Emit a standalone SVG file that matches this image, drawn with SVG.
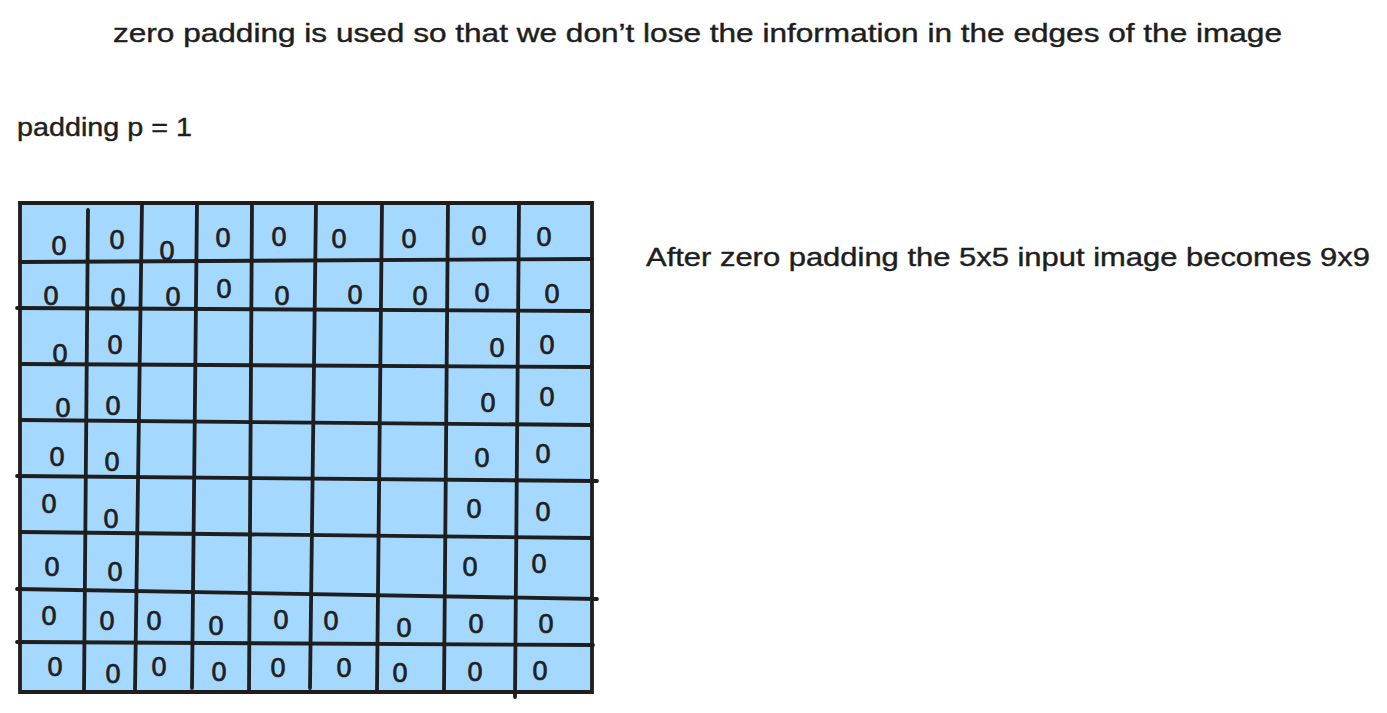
<svg xmlns="http://www.w3.org/2000/svg" width="1387" height="713" viewBox="0 0 1387 713">
<style>
.t{font-family:"Liberation Sans","DejaVu Sans",sans-serif;font-size:25px;fill:#1e1e1e;stroke:#1e1e1e;stroke-width:0.4}
.z{font-family:"Liberation Sans","DejaVu Sans",sans-serif;font-size:27px;fill:#1e1e1e;stroke:#1e1e1e;stroke-width:0.7;text-anchor:middle}
.g{stroke:#1e1e1e;stroke-width:3.8;stroke-linecap:round;fill:none}
</style>
<rect width="1387" height="713" fill="#ffffff"/>
<g id="title"><text class="t" x="113" y="42" textLength="1169" lengthAdjust="spacingAndGlyphs">zero padding is used so that we don’t lose the information in the edges of the image</text></g>
<g id="padding-label"><text class="t" x="17" y="136" textLength="175" lengthAdjust="spacingAndGlyphs">padding p = 1</text></g>
<g id="result-label"><text class="t" x="646" y="266" textLength="724" lengthAdjust="spacingAndGlyphs">After zero padding the 5x5 input image becomes 9x9</text></g>
<g id="grid">
<rect x="20" y="203" width="572" height="489" fill="#a5d8ff"/>
<g class="g">
<path d="M20 203 L592 203 L592 692 L20 692 Z"/>
<path d="M20 262 L592 259"/>
<path d="M17 308 L592 311"/>
<path d="M20 364 L592 367"/>
<path d="M20 420 L592 425"/>
<path d="M17 476 L597 481"/>
<path d="M20 532 L592 538"/>
<path d="M17 589 L597 599"/>
<path d="M17 642 L593 645"/>
<path d="M88 210 L84 692"/>
<path d="M142 203 L135 692"/>
<path d="M197 203 L192 688"/>
<path d="M252 203 L249 692"/>
<path d="M316 203 L310 688"/>
<path d="M382 203 L377 690"/>
<path d="M448 203 L444 692"/>
<path d="M519 203 L515 697"/>
</g>
</g>
<g id="zeros">
<text class="z" x="59" y="255">0</text><text class="z" x="117" y="249">0</text><text class="z" x="167" y="260">0</text><text class="z" x="223" y="247">0</text><text class="z" x="279" y="246">0</text><text class="z" x="339" y="248">0</text><text class="z" x="409" y="248">0</text><text class="z" x="479" y="245">0</text><text class="z" x="544" y="246">0</text>
<text class="z" x="51" y="305">0</text><text class="z" x="118" y="307">0</text><text class="z" x="173" y="306">0</text><text class="z" x="224" y="298">0</text><text class="z" x="282" y="305">0</text><text class="z" x="355" y="304">0</text><text class="z" x="420" y="305">0</text><text class="z" x="482" y="302">0</text><text class="z" x="552" y="303">0</text>
<text class="z" x="60" y="363">0</text><text class="z" x="115" y="354">0</text><text class="z" x="497" y="357">0</text><text class="z" x="547" y="354">0</text>
<text class="z" x="63" y="417">0</text><text class="z" x="113" y="415">0</text><text class="z" x="488" y="412">0</text><text class="z" x="547" y="406">0</text>
<text class="z" x="57" y="466">0</text><text class="z" x="112" y="471">0</text><text class="z" x="482" y="467">0</text><text class="z" x="543" y="463">0</text>
<text class="z" x="49" y="513">0</text><text class="z" x="111" y="528">0</text><text class="z" x="474" y="518">0</text><text class="z" x="543" y="521">0</text>
<text class="z" x="52" y="576">0</text><text class="z" x="115" y="581">0</text><text class="z" x="470" y="576">0</text><text class="z" x="539" y="573">0</text>
<text class="z" x="49" y="625">0</text><text class="z" x="107" y="630">0</text><text class="z" x="154" y="630">0</text><text class="z" x="216" y="635">0</text><text class="z" x="281" y="629">0</text><text class="z" x="331" y="630">0</text><text class="z" x="404" y="637">0</text><text class="z" x="476" y="633">0</text><text class="z" x="546" y="633">0</text>
<text class="z" x="55" y="676">0</text><text class="z" x="113" y="683">0</text><text class="z" x="159" y="676">0</text><text class="z" x="219" y="681">0</text><text class="z" x="278" y="677">0</text><text class="z" x="344" y="677">0</text><text class="z" x="400" y="682">0</text><text class="z" x="475" y="681">0</text><text class="z" x="540" y="680">0</text>
</g>
</svg>
